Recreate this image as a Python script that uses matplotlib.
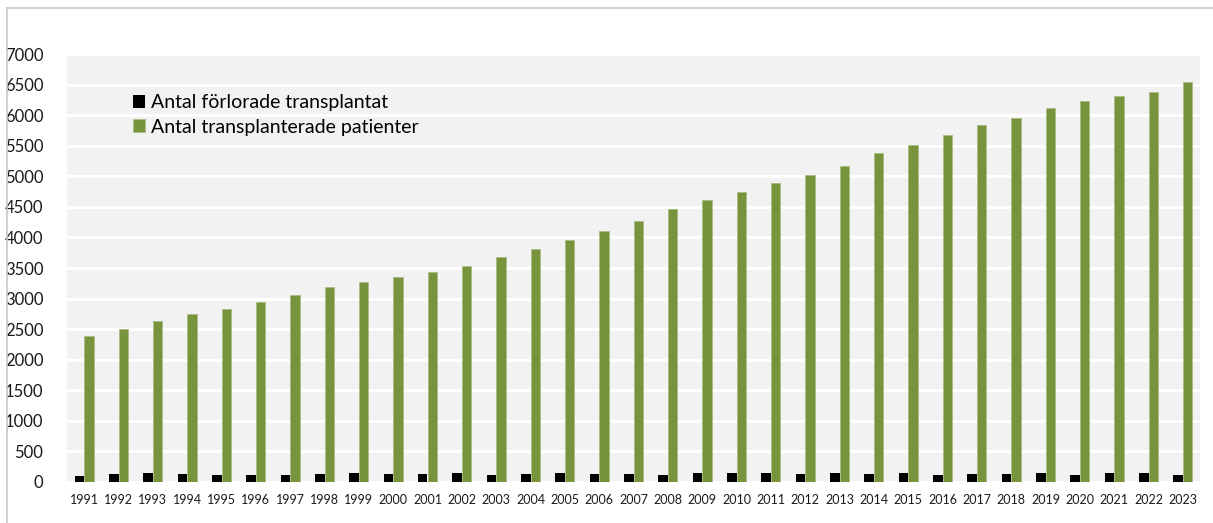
import matplotlib.pyplot as plt
import numpy as np
from matplotlib.lines import Line2D

years = [str(y) for y in range(1991, 2024)]

lost_grafts = [
    105, 130, 141, 126, 120, 115, 120, 136, 141, 126,
    130, 141, 120, 130, 146, 126, 126, 120, 141, 141,
    146, 126, 146, 126, 141, 120, 136, 136, 146, 115,
    141, 146, 120,
]

transplanted = [
    2393, 2508, 2640, 2749, 2831, 2946, 3060, 3190, 3270, 3350,
    3430, 3540, 3677, 3808, 3956, 4110, 4274, 4470, 4618, 4738,
    4897, 5028, 5175, 5377, 5508, 5672, 5836, 5956, 6110, 6225,
    6307, 6382, 6541,
]

series_names = ["Antal förlorade transplantat", "Antal transplanterade patienter"]

plt.rcParams["font.family"] = ["Lato", "DejaVu Sans"]

fig = plt.figure(figsize=(12.13, 5.23), dpi=100)
ax = fig.add_axes([67 / 1213, 1 - 482 / 523, (1200 - 67) / 1213, (482 - 54) / 523])

x = np.arange(len(years))
w = 0.28
ax.bar(x - w / 2, lost_grafts, width=w, color="black", zorder=3,
       label=series_names[0])
ax.bar(x + w / 2, transplanted, width=w, color="#77933C", edgecolor="#a9bd85",
       linewidth=0.6, zorder=3, label=series_names[1])

ax.set_facecolor("#F2F2F2")
ax.set_xlim(-0.5, len(years) - 0.5)
ax.set_ylim(0, 7000)
ax.set_yticks(np.arange(0, 7001, 500))
ax.yaxis.grid(True, color="white", linewidth=2.2, zorder=0)
ax.set_axisbelow(True)
for s in ax.spines.values():
    s.set_visible(False)

ax.set_xticks(x)
ax.set_xticklabels(years, fontsize=9, color="#1a1a1a")
ax.tick_params(axis="both", length=0)
ax.tick_params(axis="x", pad=9)
ax.tick_params(axis="y", pad=17, labelsize=12, labelcolor="#1a1a1a")

leg = ax.legend(loc="upper left", bbox_to_anchor=(0.051, 0.925), frameon=False,
                fontsize=14, handlelength=0.65, handleheight=0.65,
                handletextpad=0.3, labelspacing=0.4, borderaxespad=0)

# thin gray frame around the chart
fig.add_artist(Line2D([7 / 1213, 7 / 1213], [0, 1 - 8 / 523],
                      transform=fig.transFigure, color="#c8c8c8", linewidth=1.2))
fig.add_artist(Line2D([7 / 1213, 1], [1 - 8 / 523, 1 - 8 / 523],
                      transform=fig.transFigure, color="#c8c8c8", linewidth=1.2))

fig.savefig("out.png", dpi=100, facecolor="white")
